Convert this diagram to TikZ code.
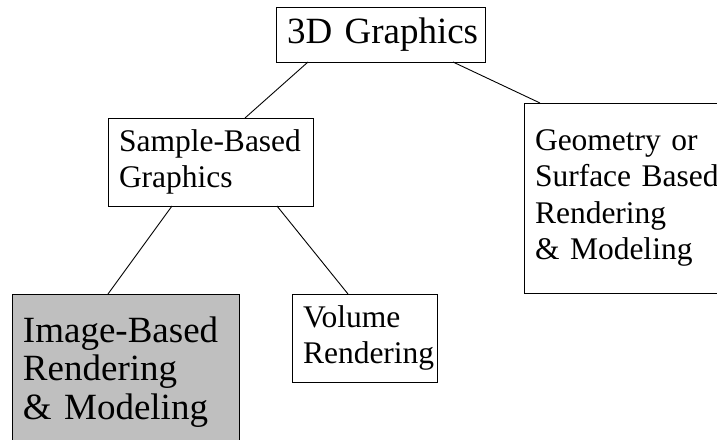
\documentclass[tikz,border=0pt]{standalone}
\usepackage{fontspec}
\setmainfont{Liberation Serif}
\tikzset{%
    box/.style={inner xsep=11pt,inner ysep=0pt,outer sep=0pt,shape=rectangle,draw,line width=1pt,align=left},
    big/.style={font=\fontsize{37}{38.5}\selectfont},
    small/.style={font=\fontsize{31.5}{36.5}\selectfont},
    link/.style={line width=0.9pt},
}

\begin{document}
\begin{tikzpicture}[x=1pt,y=-1pt]
      \useasboundingbox (0,0) rectangle (717,439);
      \clip (0,0) rectangle (717,439);

      \node [box,big,text width=187pt,minimum height=55pt] (root) at (380.5,34.5) {\mbox{3D Graphics}};
      \node [box,small,text width=183pt,minimum height=88pt] (sample) at (210.5,162) {Sample-Based\\Graphics};
      \node [box,small,text width=183pt,minimum height=190pt] (geom) at (626.5,198) {\mbox{Geometry or}\\\mbox{Surface Based}\\Rendering\\\mbox{\& Modeling}};
      \node [box,big,fill=gray!50,text width=205pt,minimum height=156pt] (ibr) at (125.5,372) {Image-Based\\Rendering\\\mbox{\& Modeling}};
      \node [box,small,text width=123pt,minimum height=88pt] (volume) at (364.5,338) {Volume\\Rendering};

      \draw [link] ([xshift=32pt]root.south west) -- ([xshift=137pt]sample.north west);
      \draw [link] ([xshift=177pt]root.south west) -- ([xshift=16pt]geom.north west);
      \draw [link] ([xshift=64pt]sample.south west) -- ([xshift=96pt]ibr.north west);
      \draw [link] ([xshift=169pt]sample.south west) -- ([xshift=56pt]volume.north west);
\end{tikzpicture}
\end{document}
